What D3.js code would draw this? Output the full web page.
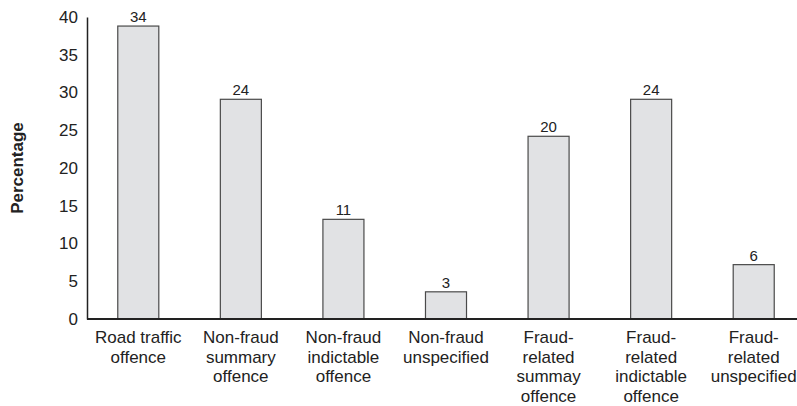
<!DOCTYPE html>
<html>
<head>
<meta charset="utf-8">
<script src="https://cdn.jsdelivr.net/npm/d3@7"></script>
<style>
  body { margin: 0; background: #fff; }
  svg { display: block; font-family: "Liberation Sans", Arial, sans-serif; }
</style>
</head>
<body>
<svg id="chart"></svg>
<script>
// category labels, split into lines as in the original
const categories = [
  ['Road traffic', 'offence'],
  ['Non-fraud', 'summary', 'offence'],
  ['Non-fraud', 'indictable', 'offence'],
  ['Non-fraud', 'unspecified'],
  ['Fraud-', 'related', 'summay', 'offence'],
  ['Fraud-', 'related', 'indictable', 'offence'],
  ['Fraud-', 'related', 'unspecified']
];
// bar heights as drawn against the axis
const barHeights = [38.8, 29.1, 13.2, 3.6, 24.2, 29.1, 7.2];
// numbers printed above the bars
const barLabels = ['34', '24', '11', '3', '20', '24', '6'];
const yTicks = [0, 5, 10, 15, 20, 25, 30, 35, 40];

const width = 797, height = 406;
const svg = d3.select('#chart').attr('width', width).attr('height', height);

const x = d3.scaleBand()
  .domain(d3.range(categories.length))
  .range([87, 805])
  .paddingInner(0.6)
  .paddingOuter(0.3);

const y = d3.scaleLinear()
  .domain([0, 40])
  .range([319, 17]);

// bars
svg.selectAll('rect.bar')
  .data(barHeights)
  .enter()
  .append('rect')
  .attr('class', 'bar')
  .attr('x', (d, i) => x(i))
  .attr('y', d => y(d))
  .attr('width', x.bandwidth())
  .attr('height', d => y(0) - y(d))
  .attr('fill', '#e1e2e4')
  .attr('stroke', '#4a4a4a')
  .attr('stroke-width', 1.2);

// value labels
svg.selectAll('text.val')
  .data(barHeights)
  .enter()
  .append('text')
  .attr('class', 'val')
  .attr('x', (d, i) => x(i) + x.bandwidth() / 2)
  .attr('y', d => y(d) - 4)
  .attr('text-anchor', 'middle')
  .attr('font-size', 15)
  .attr('fill', '#222')
  .text((d, i) => barLabels[i]);

// y axis
const yAxis = svg.append('g')
  .attr('transform', 'translate(87,0)')
  .call(d3.axisLeft(y).tickValues(yTicks).tickSize(0).tickPadding(9));
yAxis.select('.domain').attr('stroke', '#222').attr('stroke-width', 1.5);
yAxis.selectAll('text')
  .attr('font-size', 17)
  .attr('fill', '#222')
  .attr('font-family', '"Liberation Sans", Arial, sans-serif');

// x axis
const xAxis = svg.append('g')
  .attr('transform', `translate(0,${y(0)})`)
  .call(d3.axisBottom(x).tickSize(0).tickFormat(''));
xAxis.select('.domain')
  .attr('d', `M87,0H${width}`)
  .attr('stroke', '#222')
  .attr('stroke-width', 2);

const catText = svg.selectAll('text.cat')
  .data(categories)
  .enter()
  .append('text')
  .attr('class', 'cat')
  .attr('text-anchor', 'middle')
  .attr('font-size', 17)
  .attr('fill', '#222');
catText.each(function (lines, i) {
  const cx = x(i) + x.bandwidth() / 2;
  d3.select(this).selectAll('tspan')
    .data(lines)
    .enter()
    .append('tspan')
    .attr('x', cx)
    .attr('y', (l, j) => 343 + j * 19.5)
    .text(l => l);
});

// y axis title
svg.append('text')
  .attr('transform', 'translate(23,168) rotate(-90)')
  .attr('text-anchor', 'middle')
  .attr('font-size', 17)
  .attr('font-weight', 'bold')
  .attr('fill', '#222')
  .text('Percentage');
</script>
</body>
</html>
